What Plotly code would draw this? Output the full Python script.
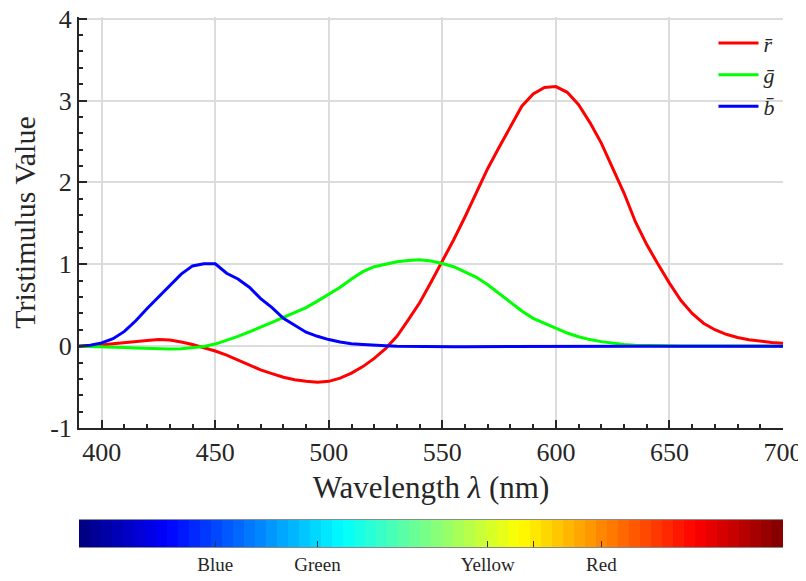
import plotly.graph_objects as go

# ---------------- data ----------------
wavelength = list(range(390, 705, 5))

r_bar = [0.00, 0.005, 0.015, 0.03, 0.045, 0.06, 0.07, 0.08, 0.075, 0.05,
         0.02, -0.02, -0.06, -0.11, -0.17, -0.23, -0.29, -0.335, -0.38, -0.41,
         -0.43, -0.44, -0.43, -0.39, -0.33, -0.25, -0.15, -0.03, 0.12, 0.32,
         0.53, 0.78, 1.04, 1.30, 1.58, 1.88, 2.17, 2.43, 2.68, 2.93,
         3.08, 3.16, 3.17, 3.10, 2.95, 2.73, 2.48, 2.18, 1.87, 1.52,
         1.24, 1.00, 0.77, 0.56, 0.40, 0.28, 0.20, 0.145, 0.105, 0.078,
         0.06, 0.045, 0.035]

g_bar = [0.0, -0.002, -0.005, -0.01, -0.016, -0.022, -0.028, -0.033, -0.036, -0.033,
         -0.022, -0.005, 0.025, 0.07, 0.12, 0.175, 0.23, 0.29, 0.35, 0.41,
         0.47, 0.55, 0.63, 0.72, 0.82, 0.91, 0.97, 1.00, 1.03, 1.045,
         1.055, 1.04, 1.01, 0.97, 0.91, 0.84, 0.75, 0.64, 0.53, 0.43,
         0.34, 0.28, 0.22, 0.16, 0.115, 0.08, 0.055, 0.035, 0.02, 0.012,
         0.007, 0.004, 0.002, 0.001, 0.001, 0.0, 0.0, 0.0, 0.0, 0.0,
         0.0, 0.0, 0.0]

b_bar = [0.0, 0.01, 0.04, 0.09, 0.18, 0.31, 0.46, 0.60, 0.75, 0.88,
         0.98, 1.005, 1.005, 0.89, 0.82, 0.72, 0.58, 0.47, 0.34, 0.26,
         0.17, 0.12, 0.08, 0.05, 0.03, 0.02, 0.01, 0.005, 0.0, -0.003,
         -0.005, -0.006, -0.007, -0.007, -0.007, -0.006, -0.006, -0.005, -0.005, -0.004,
         -0.004, -0.003, -0.003, -0.002, -0.002, -0.002, -0.001, -0.001, -0.001, -0.001,
         -0.001, -0.001, -0.001, 0.0, 0.0, 0.0, 0.0, 0.0, 0.0, 0.0,
         0.0, 0.0, 0.0]

series_names = ["<i>r̄</i>", "<i>ḡ</i>", "<i>b̄</i>"]
series_colors = ["#ff0000", "#00ff00", "#0000ff"]

y_tickvals = [-1, 0, 1, 2, 3, 4]
y_ticktext = ["-1", "0", "1", "2", "3", "4"]
x_tickvals = [400, 450, 500, 550, 600, 650, 700]

cbar_tickvals = [450, 495, 570, 590, 620]
cbar_ticktext = ["Blue", "Green", "Yellow", "", "Red"]

# MATLAB-style jet colormap with 64 discrete levels (style, not data)
N_COLORS = 64
def _jet(t):
    def c(v):
        return max(0.0, min(1.0, v))
    r = c(1.5 - abs(4 * t - 3))
    g = c(1.5 - abs(4 * t - 2))
    b = c(1.5 - abs(4 * t - 1))
    return "rgb(%d,%d,%d)" % (round(r * 255), round(g * 255), round(b * 255))

jet_scale = [[i / (N_COLORS - 1), _jet((i + 0.5) / N_COLORS)] for i in range(N_COLORS)]

FONT = "Liberation Serif"

fig = go.Figure()
for name, vals, col in zip(series_names, [r_bar, g_bar, b_bar], series_colors):
    fig.add_trace(go.Scatter(x=wavelength, y=vals, mode="lines", name=name,
                             line=dict(color=col, width=3), xaxis="x", yaxis="y"))

# colour bar drawn as one-row heatmap on its own axes
x_lo, x_hi = 390, 700
cell = (x_hi - x_lo) / N_COLORS
fig.add_trace(go.Heatmap(z=[list(range(N_COLORS))], x0=x_lo + cell / 2, dx=cell,
                         colorscale=jet_scale, zmin=0, zmax=N_COLORS - 1,
                         showscale=False, xaxis="x2", yaxis="y2", hoverinfo="skip"))

axis_col = "#262626"
grid_col = "#dcdcdc"

# the page body has an 8px default margin, so the figure is sized to fit
fig.update_layout(
    width=798, height=573,
    margin=dict(l=71, r=23, t=9, b=34, autoexpand=False),
    paper_bgcolor="white", plot_bgcolor="white",
    font=dict(family=FONT, color=axis_col, size=20),
    showlegend=True,
    legend=dict(x=0.995, y=0.99, xanchor="right", yanchor="top",
                bgcolor="rgba(0,0,0,0)", font=dict(size=22, family=FONT),
                itemwidth=40, tracegroupgap=0),
    xaxis=dict(domain=[0, 1], range=[390, 700.01], anchor="y", automargin=False,
               tickvals=x_tickvals, ticks="inside", ticklen=8, tickwidth=2,
               tickcolor=axis_col, showline=True, linecolor=axis_col, linewidth=2,
               showgrid=True, gridcolor=grid_col, gridwidth=2, zeroline=False,
               tickfont=dict(size=26), ticklabeloverflow="allow",
               minor=dict(dtick=10, ticks="inside", ticklen=4, tickwidth=2,
                          tickcolor=axis_col, showgrid=False),
               title=dict(text="Wavelength <i>λ</i> (nm)", font=dict(size=31), standoff=10)),
    yaxis=dict(domain=[0.2245, 1], range=[-1, 4.02], anchor="x", automargin=False,
               tickvals=y_tickvals, ticktext=y_ticktext, ticks="inside", ticklen=8,
               tickwidth=2, tickcolor=axis_col, showline=True, linecolor=axis_col,
               linewidth=2, showgrid=True, gridcolor=grid_col, gridwidth=2,
               zeroline=False, tickfont=dict(size=26), ticklabeloverflow="allow",
               minor=dict(dtick=0.2, ticks="inside", ticklen=4, tickwidth=2,
                          tickcolor=axis_col, showgrid=False),
               title=dict(text="Tristimulus Value", font=dict(size=30), standoff=8)),
    xaxis2=dict(domain=[0, 1], range=[x_lo, x_hi], anchor="y2", automargin=False,
                tickvals=cbar_tickvals, ticktext=cbar_ticktext,
                ticks="inside", ticklen=6, tickwidth=1, tickcolor="#333333",
                showline=True, linecolor="#888888", linewidth=1, mirror=True,
                showgrid=False, zeroline=False, tickfont=dict(size=19),
                ticklabeloverflow="allow"),
    yaxis2=dict(domain=[0, 0.0509], range=[-0.5, 0.5], anchor="x2", automargin=False,
                showticklabels=False, ticks="", showgrid=False, zeroline=False,
                showline=False),
)

fig.write_html("out.html")
